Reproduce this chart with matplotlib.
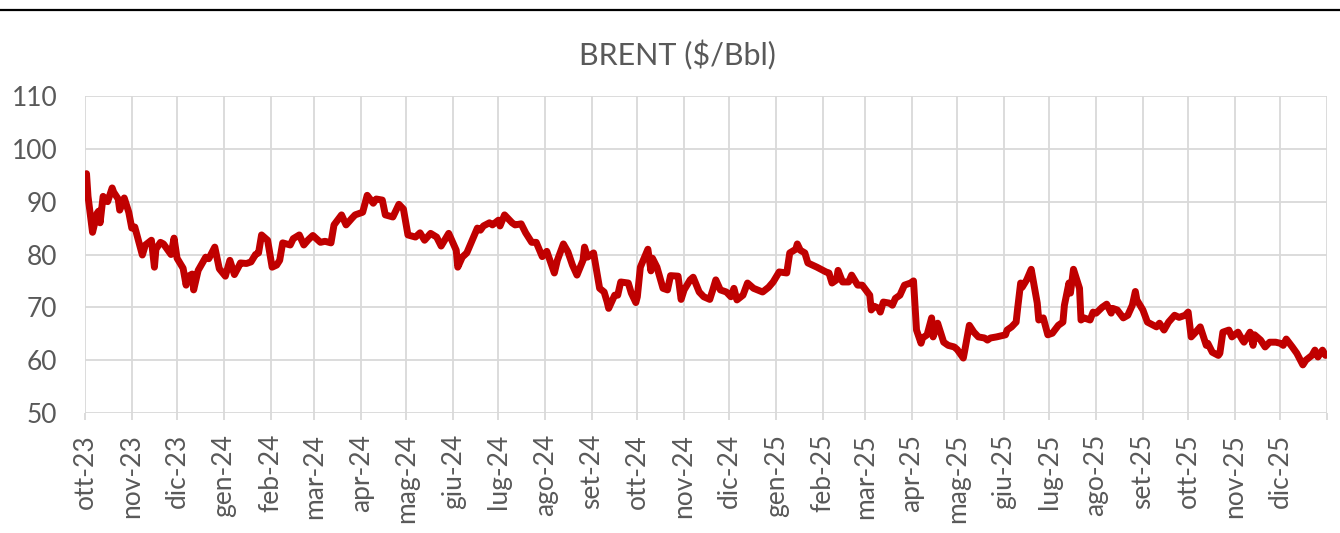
import numpy as np
import pandas as pd
import matplotlib
matplotlib.use("Agg")
import matplotlib.pyplot as plt
import matplotlib.dates as mdates
from matplotlib.lines import Line2D

# data
dates = [
    "2023-10-02", "2023-10-03", "2023-10-06", "2023-10-09", "2023-10-10", "2023-10-11",
    "2023-10-13", "2023-10-16", "2023-10-19", "2023-10-20", "2023-10-23", "2023-10-24",
    "2023-10-27", "2023-10-30", "2023-11-01", "2023-11-03", "2023-11-08", "2023-11-10",
    "2023-11-14", "2023-11-16", "2023-11-17", "2023-11-20", "2023-11-22", "2023-11-27",
    "2023-11-29", "2023-12-01", "2023-12-05", "2023-12-07", "2023-12-08", "2023-12-11",
    "2023-12-12", "2023-12-15", "2023-12-20", "2023-12-22", "2023-12-26", "2023-12-29",
    "2024-01-02", "2024-01-05", "2024-01-08", "2024-01-11", "2024-01-12", "2024-01-16",
    "2024-01-19", "2024-01-22", "2024-01-24", "2024-01-26", "2024-01-30", "2024-02-02",
    "2024-02-05", "2024-02-07", "2024-02-09", "2024-02-14", "2024-02-16", "2024-02-20",
    "2024-02-23", "2024-02-26", "2024-02-29", "2024-03-05", "2024-03-08", "2024-03-12",
    "2024-03-14", "2024-03-19", "2024-03-22", "2024-03-26", "2024-03-28", "2024-04-02",
    "2024-04-05", "2024-04-09", "2024-04-11", "2024-04-15", "2024-04-17", "2024-04-22",
    "2024-04-26", "2024-04-29", "2024-05-02", "2024-05-07", "2024-05-10", "2024-05-13",
    "2024-05-17", "2024-05-21", "2024-05-24", "2024-05-29", "2024-06-03", "2024-06-04",
    "2024-06-07", "2024-06-10", "2024-06-13", "2024-06-17", "2024-06-19", "2024-06-21",
    "2024-06-25", "2024-06-27", "2024-07-01",
    "2024-07-02", "2024-07-05", "2024-07-10", "2024-07-12", "2024-07-16", "2024-07-19",
    "2024-07-23", "2024-07-26", "2024-07-30", "2024-08-02", "2024-08-07", "2024-08-09",
    "2024-08-13", "2024-08-16", "2024-08-19", "2024-08-22", "2024-08-26", "2024-08-27",
    "2024-08-29", "2024-09-02", "2024-09-04", "2024-09-06", "2024-09-09", "2024-09-11",
    "2024-09-12", "2024-09-16", "2024-09-18", "2024-09-20", "2024-09-25", "2024-09-27",
    "2024-09-30", "2024-10-01", "2024-10-03", "2024-10-08", "2024-10-10", "2024-10-11",
    "2024-10-14", "2024-10-18", "2024-10-21", "2024-10-23", "2024-10-28", "2024-10-30",
    "2024-11-01", "2024-11-05", "2024-11-07", "2024-11-11", "2024-11-14", "2024-11-18",
    "2024-11-20", "2024-11-22", "2024-11-25", "2024-11-29", "2024-12-02", "2024-12-04",
    "2024-12-06", "2024-12-10", "2024-12-13", "2024-12-17", "2024-12-23", "2024-12-27",
    "2024-12-30", "2025-01-03", "2025-01-08", "2025-01-10", "2025-01-14", "2025-01-15",
    "2025-01-17", "2025-01-20", "2025-01-22", "2025-01-28", "2025-02-03", "2025-02-05",
    "2025-02-07", "2025-02-10", "2025-02-11", "2025-02-14", "2025-02-18", "2025-02-20",
    "2025-02-24", "2025-02-27", "2025-03-03", "2025-03-04", "2025-03-05", "2025-03-07",
    "2025-03-10", "2025-03-11", "2025-03-13", "2025-03-17", "2025-03-19", "2025-03-21",
    "2025-03-24", "2025-03-27", "2025-03-31", "2025-04-02", "2025-04-04", "2025-04-07",
    "2025-04-08", "2025-04-11", "2025-04-14", "2025-04-15", "2025-04-18", "2025-04-22",
    "2025-04-25", "2025-04-29", "2025-05-01", "2025-05-05", "2025-05-06", "2025-05-09",
    "2025-05-12", "2025-05-15", "2025-05-19", "2025-05-21", "2025-05-23", "2025-05-27",
    "2025-06-02", "2025-06-03", "2025-06-06", "2025-06-09", "2025-06-10", "2025-06-12",
    "2025-06-13", "2025-06-16", "2025-06-19", "2025-06-23", "2025-06-24", "2025-06-27",
    "2025-06-30", "2025-07-03", "2025-07-07", "2025-07-10", "2025-07-11", "2025-07-14",
    "2025-07-15", "2025-07-17", "2025-07-21", "2025-07-22", "2025-07-24", "2025-07-28",
    "2025-07-30", "2025-08-01", "2025-08-05", "2025-08-08", "2025-08-11", "2025-08-12",
    "2025-08-15", "2025-08-19", "2025-08-22", "2025-08-25", "2025-08-27", "2025-08-28",
    "2025-09-01", "2025-09-04", "2025-09-08", "2025-09-10", "2025-09-12", "2025-09-15",
    "2025-09-18", "2025-09-22", "2025-09-25", "2025-09-29", "2025-10-01", "2025-10-03",
    "2025-10-06", "2025-10-09", "2025-10-13", "2025-10-14", "2025-10-17", "2025-10-21",
    "2025-10-22", "2025-10-24", "2025-10-28", "2025-10-30", "2025-11-03", "2025-11-06",
    "2025-11-07", "2025-11-11", "2025-11-13", "2025-11-14", "2025-11-18", "2025-11-21",
    "2025-11-24", "2025-11-28", "2025-12-01", "2025-12-03", "2025-12-05", "2025-12-09",
    "2025-12-12", "2025-12-16", "2025-12-18", "2025-12-22", "2025-12-24", "2025-12-26",
    "2025-12-29", "2025-12-31",
]
brent = [
    95.3, 91.0, 84.2, 87.8, 88.2, 86.0,
    91.0, 90.0, 92.6, 91.8, 90.5, 88.4,
    90.7, 88.0, 85.0, 85.2, 79.9, 81.8,
    82.7, 77.6, 81.0, 82.3, 82.0, 80.0,
    83.1, 79.3, 77.4, 74.2, 75.8, 76.3,
    73.3, 77.0, 79.5, 79.2, 81.4, 77.3,
    75.9, 78.9, 76.2, 77.8, 78.4, 78.3,
    78.6, 80.0, 80.3, 83.7, 82.7, 77.6,
    78.0, 78.9, 82.2, 81.8, 83.0, 83.7,
    81.8, 82.8, 83.6, 82.3, 82.5, 82.2,
    85.6, 87.5, 85.6, 86.9, 87.5, 88.0,
    91.2, 89.7, 90.5, 90.3, 87.5, 87.1,
    89.5, 88.6, 83.7, 83.3, 84.1, 82.7,
    84.0, 83.3, 81.6, 84.0, 80.8, 77.6,
    79.5, 80.3, 82.3, 85.0, 84.6, 85.4,
    86.0, 85.6, 86.5,
    85.4, 87.5, 86.0, 85.6, 85.8, 84.1,
    82.3, 82.3, 79.6, 80.6, 76.5, 78.9,
    82.0, 80.5, 78.0, 76.1, 78.9, 81.4,
    79.5, 80.3, 77.0, 73.6, 72.9, 71.0,
    69.8, 72.3, 72.3, 74.8, 74.6, 72.7,
    70.9, 72.0, 77.6, 81.0, 76.9, 79.3,
    77.6, 73.6, 73.3, 76.0, 75.9, 71.5,
    73.3, 75.2, 75.7, 72.9, 72.0, 71.5,
    73.3, 75.2, 73.3, 72.9, 72.0, 73.6,
    71.4, 72.3, 74.6, 73.6, 72.9, 73.8,
    74.8, 76.7, 76.5, 80.3, 81.0, 82.0,
    80.8, 80.3, 78.4, 77.6, 76.7, 76.5,
    74.6, 75.2, 77.0, 74.8, 74.8, 76.1,
    74.2, 74.2, 72.7, 72.3, 69.5, 70.2,
    69.8, 69.1, 71.0, 70.8, 70.4, 71.7,
    72.3, 74.2, 74.6, 75.0, 65.7, 63.2,
    64.2, 64.8, 68.0, 64.4, 67.0, 63.4,
    62.8, 62.5, 62.0, 60.4, 61.9, 66.6,
    65.3, 64.4, 64.2, 63.8, 64.2, 64.4,
    64.8, 65.7, 66.3, 67.2, 69.8, 74.6,
    73.8, 75.2, 77.2, 70.8, 67.6, 68.0,
    64.8, 65.1, 66.6, 67.2, 70.4, 74.6,
    72.7, 77.2, 73.6, 67.6, 68.0, 67.6,
    69.1, 68.9, 70.0, 70.6, 68.9, 69.8,
    69.5, 68.0, 68.5, 70.4, 73.0, 71.4,
    69.5, 67.2, 66.6, 66.3, 67.0, 65.7,
    67.2, 68.5, 68.1, 68.5, 69.1, 64.4,
    65.3, 66.3, 62.8, 63.2, 61.5, 60.9,
    61.3, 65.3, 65.7, 64.4, 65.3, 63.8,
    63.4, 65.3, 62.8, 64.8, 63.8, 62.5,
    63.4, 63.4, 63.2, 62.8, 64.0, 62.5,
    61.3, 59.1, 60.0, 60.9, 61.9, 60.6,
    61.9, 60.9,
]
month_names = ["ott", "nov", "dic", "gen", "feb", "mar", "apr", "mag", "giu", "lug", "ago", "set"]
y_ticks = [50, 60, 70, 80, 90, 100, 110]

x = pd.to_datetime(dates)
ticks = pd.date_range("2023-10-01", "2026-01-01", freq="MS")
tick_labels = []
for t in ticks:
    m = month_names[(t.month - 10) % 12]
    tick_labels.append(f"{m}-{t.year % 100:02d}")
tick_labels[-1] = ""

plt.rcParams["font.family"] = ["Lato", "DejaVu Sans"]
grey_txt = "#595959"
grid_c = "#d9d9d9"

fig = plt.figure(figsize=(13.4, 5.33), dpi=100)
ax = fig.add_axes([85 / 1340, 1 - 413 / 533, 1242 / 1340, 317 / 533])

ax.plot(x, brent, color="#C00000", linewidth=5.0, solid_joinstyle="round",
        solid_capstyle="round", zorder=3)

ax.set_xlim(ticks[0], ticks[-1])
ax.set_ylim(50, 110)
ax.set_yticks(y_ticks)
ax.set_xticks(ticks)
ax.set_xticklabels(tick_labels, rotation=90)

ax.grid(True, color=grid_c, linewidth=1.3)
ax.set_axisbelow(True)
for s in ax.spines.values():
    s.set_visible(False)
ax.tick_params(axis="y", length=0, pad=20, labelsize=19, labelcolor=grey_txt)
ax.tick_params(axis="x", length=5, width=1.3, color=grid_c, pad=10, labelsize=19, labelcolor=grey_txt)

fig.text(677 / 1340, 1 - 55 / 533, "BRENT ($/Bbl)", ha="center", va="center",
         fontsize=22, color=grey_txt)

# top rule
fig.add_artist(Line2D([0, 1], [1 - 10 / 533, 1 - 10 / 533], color="black", linewidth=1.6,
                      transform=fig.transFigure))

fig.savefig("out.png", dpi=100, facecolor="white")
